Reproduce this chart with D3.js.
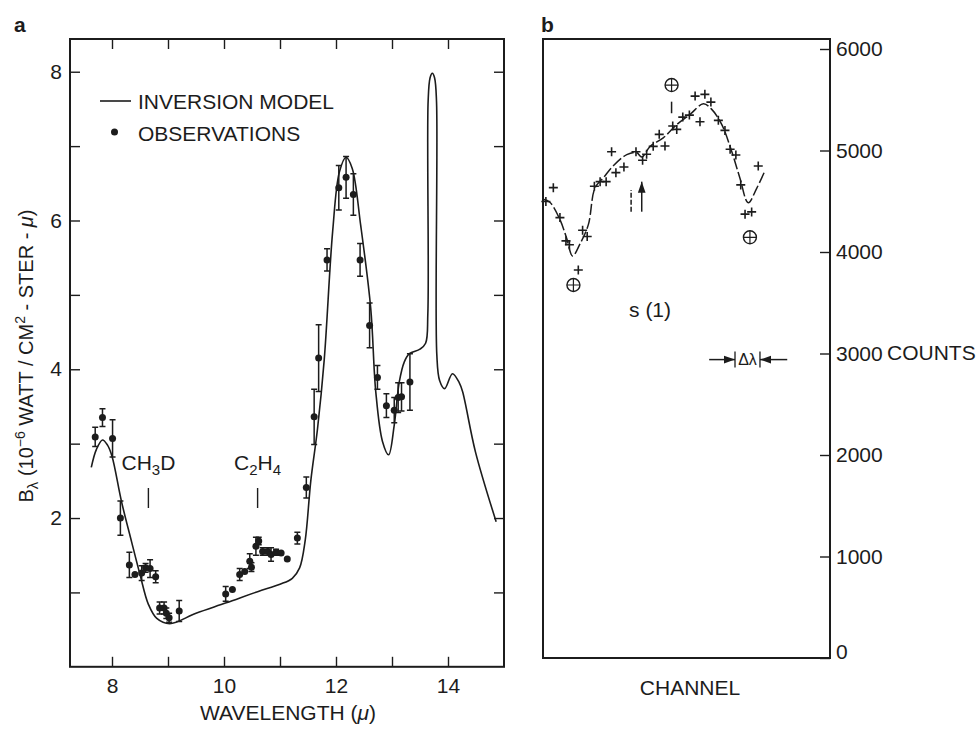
<!DOCTYPE html>
<html lang="en">
<head>
<meta charset="UTF-8">
<title>Spectrum</title>
<script src="https://cdn.jsdelivr.net/npm/d3@7"></script>
<style>
  body { margin: 0; background: #fff; }
  svg { font-family: "Liberation Sans", Arial, Helvetica, sans-serif; }
</style>
</head>
<body>
<script>
// panel a: inversion model curve [wavelength, B]
var modelCurve = [
  [7.63,2.68],[7.72,2.92],[7.83,3.05],[7.92,2.98],[8.0,2.83],[8.17,2.22],[8.35,1.68],[8.5,1.24],
  [8.65,0.84],[8.8,0.65],[9.03,0.58],[9.5,0.72],[10.04,0.86],[10.6,1.01],[11.0,1.11],[11.22,1.19],
  [11.35,1.33],[11.45,1.7],[11.55,2.5],[11.67,3.2],[11.79,4.13],[11.94,5.85],[12.06,6.65],[12.18,6.85],
  [12.29,6.7],[12.44,5.94],[12.62,4.82],[12.71,3.7],[12.83,3.03],[12.94,2.85],[13.04,3.25],[13.13,3.83],
  [13.22,4.1],[13.31,4.21],[13.5,4.27],[13.6,4.35],[13.64,4.75],[13.645,7.6],[13.68,7.92],[13.72,7.98],
  [13.76,7.92],[13.795,7.6],[13.8,4.2],[13.85,3.85],[13.94,3.74],[14.08,3.94],[14.2,3.82],[14.26,3.7],
  [14.49,2.89],[14.86,1.95]
]
// panel a: observations [wavelength, B, error]
var observations = [
  [7.70,3.09,0.13],[7.83,3.35,0.12],[8.01,3.07,0.25],[8.15,2.0,0.23],[8.31,1.37,0.17],[8.41,1.24,0],
  [8.53,1.26,0.1],[8.6,1.33,0.06],[8.68,1.32,0.12],[8.78,1.21,0.08],[8.85,0.79,0.08],[8.93,0.79,0.08],
  [8.97,0.72,0.07],[9.02,0.66,0.06],[9.2,0.75,0.14],[10.03,0.98,0.1],[10.15,1.04,0],[10.28,1.24,0.08],
  [10.37,1.28,0],[10.46,1.42,0.1],[10.49,1.34,0.06],[10.57,1.62,0.12],[10.62,1.69,0.05],[10.69,1.55,0.05],
  [10.78,1.55,0.05],[10.84,1.51,0.09],[10.93,1.54,0.04],[11.02,1.53,0],[11.13,1.45,0],[11.31,1.73,0.08],
  [11.47,2.41,0.14],[11.61,3.36,0.37],[11.69,4.15,0.45],[11.84,5.47,0.15],[12.05,6.44,0.3],[12.18,6.58,0.28],
  [12.31,6.35,0.28],[12.43,5.47,0.22],[12.6,4.59,0.3],[12.74,3.89,0.16],[12.9,3.51,0.16],[13.04,3.45,0.17],
  [13.11,3.62,0.2],[13.17,3.63,0.19],[13.32,3.83,0.38]
]
var xTicksA = [8, 9, 10, 11, 12, 13, 14]
var yTicksA = [1, 2, 3, 4, 5, 6, 7, 8]
var bandMarks = [{ label: 'CH3D', x: 8.65 }, { label: 'C2H4', x: 10.6 }]

// panel b: fitted curve and counts [channel, counts]
var fitCurve = [
  [0,4520],[2.4,4490],[5.9,4320],[8.3,4130],[10.3,3960],[12.9,4080],[15.8,4270],[18.1,4630],[21,4730],
  [24.5,4850],[29.2,4960],[32.6,4980],[34.4,4935],[37.3,5040],[41.9,5125],[46.6,5255],[51.2,5355],
  [55.9,5460],[58.8,5405],[62.3,5255],[65.7,4995],[68.6,4730],[71.5,4485],[74.5,4630],[77.4,4805]
]
var counts = [
  [3.6,4634],[1.0,4497],[5.9,4339],[8.0,4110],[9.2,4071],[12.3,3822],[13.8,4215],[15.4,4153],[17.9,4648],
  [19.9,4693],[22.0,4693],[23.9,4988],[25.4,4782],[28.2,4838],[32.4,4988],[34.7,4904],[36.1,4963],
  [38.4,5041],[40.5,5159],[42.5,5044],[45.2,5241],[46.6,5208],[48.7,5329],[51.0,5349],[53.0,5536],
  [54.7,5283],[56.4,5553],[58.5,5477],[61.1,5297],[63.4,5198],[65.2,5012],[67.2,4956],[68.9,4661],
  [70.4,4373],[72.7,4395],[75.0,4848]
]
var earthMarks = [[10.6,3675],[44.8,5645],[72.1,4145]]
var yTicksB = [0, 1000, 2000, 3000, 4000, 5000, 6000]

var ink = '#1c1c1c'
var fs = 21
var svg = d3.select('body').append('svg').attr('width', 976).attr('height', 730)

// ---------- panel a ----------
var xA = d3.scaleLinear().domain([7.25, 15.0]).range([70, 504])
var yA = d3.scaleLinear().domain([0, 8.44]).range([666.8, 39])

var pa = svg.append('g')
pa.append('g').attr('transform', 'translate(0,666.8)')
    .call(d3.axisBottom(xA).tickValues(xTicksA).tickSize(-10).tickPadding(11)
        .tickFormat(d => d % 2 === 0 ? d : ''))
pa.append('g').attr('transform', 'translate(0,39)')
    .call(d3.axisTop(xA).tickValues(xTicksA).tickSize(-10).tickFormat(''))
pa.append('g').attr('transform', 'translate(70,0)')
    .call(d3.axisLeft(yA).tickValues(yTicksA).tickSize(-10).tickPadding(8)
        .tickFormat(d => d % 2 === 0 ? d : ''))
pa.append('g').attr('transform', 'translate(504,0)')
    .call(d3.axisRight(yA).tickValues(yTicksA).tickSize(-10).tickFormat(''))
pa.append('rect').attr('x', 70).attr('y', 39).attr('width', 434).attr('height', 627.8)
    .attr('fill', 'none').attr('stroke', ink).attr('stroke-width', 2)

pa.append('path')
    .datum(modelCurve)
    .attr('fill', 'none').attr('stroke', ink).attr('stroke-width', 1.6)
    .attr('d', d3.line().x(d => xA(d[0])).y(d => yA(d[1])).curve(d3.curveCatmullRom.alpha(0.5)))

var obs = pa.append('g').selectAll('g').data(observations).enter().append('g')
obs.filter(d => d[2] > 0).append('path')
    .attr('fill', 'none').attr('stroke', ink).attr('stroke-width', 1.5)
    .attr('d', d => {
        var cx = xA(d[0]), t = yA(d[1] + d[2]), b = yA(d[1] - d[2])
        return 'M' + cx + ',' + t + 'V' + b + 'M' + (cx - 3) + ',' + t + 'h6M' + (cx - 3) + ',' + b + 'h6'
    })
obs.append('circle')
    .attr('cx', d => xA(d[0])).attr('cy', d => yA(d[1])).attr('r', 3.5).attr('fill', ink)

// legend
pa.append('line').attr('x1', 100).attr('x2', 131).attr('y1', 101).attr('y2', 101)
    .attr('stroke', ink).attr('stroke-width', 1.6)
pa.append('text').attr('x', 138).attr('y', 109).attr('font-size', fs).attr('fill', ink).text('INVERSION MODEL')
pa.append('circle').attr('cx', 114.5).attr('cy', 132).attr('r', 3.5).attr('fill', ink)
pa.append('text').attr('x', 138).attr('y', 141).attr('font-size', fs).attr('fill', ink).text('OBSERVATIONS')

// band labels
bandMarks.forEach(function (m) {
    pa.append('line').attr('x1', xA(m.x)).attr('x2', xA(m.x)).attr('y1', 488).attr('y2', 508)
        .attr('stroke', ink).attr('stroke-width', 1.4)
    var t = pa.append('text').attr('x', xA(m.x)).attr('y', 475).attr('font-size', fs)
        .attr('fill', ink).attr('text-anchor', 'middle')
    m.label.match(/[A-Z]+|\d/g).forEach(function (s) {
        if (/\d/.test(s)) {
            t.append('tspan').attr('font-size', 15).attr('dy', 5).text(s)
        } else {
            t.append('tspan').attr('dy', t.selectAll('tspan').size() ? -5 : 0).text(s)
        }
    })
})

// axis titles
pa.append('text').attr('x', 288).attr('y', 720).attr('font-size', fs).attr('fill', ink)
    .attr('text-anchor', 'middle')
    .call(t => {
        t.append('tspan').text('WAVELENGTH (')
        t.append('tspan').attr('font-style', 'italic').text('μ')
        t.append('tspan').text(')')
    })
pa.append('text').attr('transform', 'translate(33,356) rotate(-90)').attr('font-size', 20)
    .attr('fill', ink).attr('text-anchor', 'middle')
    .call(t => {
        t.append('tspan').text('B')
        t.append('tspan').attr('font-size', 15).attr('dy', 5).text('λ')
        t.append('tspan').attr('dy', -5).text(' (10')
        t.append('tspan').attr('font-size', 14).attr('dy', -8).text('−6')
        t.append('tspan').attr('dy', 8).text(' WATT / CM')
        t.append('tspan').attr('font-size', 14).attr('dy', -8).text('2')
        t.append('tspan').attr('dy', 8).text(' - STER - ')
        t.append('tspan').attr('font-style', 'italic').text('μ')
        t.append('tspan').text(')')
    })
svg.append('text').attr('x', 14).attr('y', 32).attr('font-size', fs).attr('font-weight', 'bold')
    .attr('fill', ink).text('a')

// ---------- panel b ----------
var xB = d3.scaleLinear().domain([0, 100]).range([543, 830])
var yB = d3.scaleLinear().domain([0, 6000]).range([658, 49])

var pb = svg.append('g')
var axB = pb.append('g').attr('transform', 'translate(830,0)')
    .call(d3.axisRight(yB).tickValues(yTicksB).tickSize(-10).tickPadding(6).tickFormat(d3.format('d')))
axB.selectAll('text').filter(d => d === 0).attr('dy', '0.02em')
pb.append('rect').attr('x', 543).attr('y', 39).attr('width', 287).attr('height', 619)
    .attr('fill', 'none').attr('stroke', ink).attr('stroke-width', 2)
pb.append('text').attr('x', 887).attr('y', yB(3000)).attr('dy', '0.32em').attr('font-size', fs)
    .attr('fill', ink).text('COUNTS')

pb.append('path')
    .datum(fitCurve)
    .attr('fill', 'none').attr('stroke', ink).attr('stroke-width', 1.5)
    .attr('stroke-dasharray', '11,3')
    .attr('d', d3.line().x(d => xB(d[0])).y(d => yB(d[1])).curve(d3.curveCatmullRom.alpha(0.5)))

pb.append('g').selectAll('path').data(counts).enter().append('path')
    .attr('fill', 'none').attr('stroke', ink).attr('stroke-width', 1.6)
    .attr('d', d => {
        var cx = xB(d[0]), cy = yB(d[1])
        return 'M' + (cx - 4.5) + ',' + cy + 'h9M' + cx + ',' + (cy - 4.5) + 'v9'
    })

// circled plus (Earth) symbols
var em = pb.append('g').selectAll('g').data(earthMarks).enter().append('g')
    .attr('transform', d => 'translate(' + xB(d[0]) + ',' + yB(d[1]) + ')')
em.append('circle').attr('r', 6.5).attr('fill', 'none').attr('stroke', ink).attr('stroke-width', 1.4)
em.append('path').attr('d', 'M-6.5,0h13M0,-6.5v13').attr('stroke', ink).attr('stroke-width', 1.2)

pb.append('line').attr('x1', xB(44.8)).attr('x2', xB(44.8)).attr('y1', yB(5481)).attr('y2', yB(5367))
    .attr('stroke', ink).attr('stroke-width', 1.5)

svg.append('defs').call(d => {
    d.append('marker').attr('id', 'head').attr('viewBox', '0 0 10 10').attr('refX', 10).attr('refY', 5)
        .attr('markerWidth', 11).attr('markerHeight', 11).attr('markerUnits', 'userSpaceOnUse')
        .attr('orient', 'auto')
        .append('path').attr('d', 'M0,1.5L10,5L0,8.5Z').attr('fill', ink)
})
pb.append('line').attr('x1', xB(34.4)).attr('x2', xB(34.4)).attr('y1', yB(4397)).attr('y2', yB(4693))
    .attr('stroke', ink).attr('stroke-width', 1.5).attr('marker-end', 'url(#head)')
pb.append('line').attr('x1', xB(30.7)).attr('x2', xB(30.7)).attr('y1', yB(4397)).attr('y2', yB(4610))
    .attr('stroke', ink).attr('stroke-width', 1.5).attr('stroke-dasharray', '5,2')

pb.append('text').attr('x', xB(37.3)).attr('y', yB(3362)).attr('font-size', fs)
    .attr('text-anchor', 'middle').attr('fill', ink).text('s (1)')

// Δλ marker
var dl = yB(2940)
pb.append('line').attr('x1', xB(57.9)).attr('x2', xB(66.9)).attr('y1', dl).attr('y2', dl)
    .attr('stroke', ink).attr('stroke-width', 1.5).attr('marker-end', 'url(#head)')
pb.append('line').attr('x1', xB(85.1)).attr('x2', xB(75.6)).attr('y1', dl).attr('y2', dl)
    .attr('stroke', ink).attr('stroke-width', 1.5).attr('marker-end', 'url(#head)')
pb.append('path').attr('d', 'M' + xB(66.9) + ',' + (dl - 8) + 'v16M' + xB(75.6) + ',' + (dl - 8) + 'v16')
    .attr('stroke', ink).attr('stroke-width', 1.3)
pb.append('text').attr('x', (xB(66.9) + xB(75.6)) / 2).attr('y', dl).attr('dy', '0.35em')
    .attr('font-size', 16).attr('text-anchor', 'middle').attr('fill', ink).text('Δλ')

pb.append('text').attr('x', 690).attr('y', 695).attr('font-size', fs).attr('text-anchor', 'middle')
    .attr('fill', ink).text('CHANNEL')
svg.append('text').attr('x', 541).attr('y', 32).attr('font-size', fs).attr('font-weight', 'bold')
    .attr('fill', ink).text('b')

svg.selectAll('.domain').remove()
svg.selectAll('.tick line').attr('stroke', ink).attr('stroke-width', 1.4)
svg.selectAll('.tick text').attr('font-size', fs).attr('fill', ink)
    .attr('font-family', '"Liberation Sans", Arial, Helvetica, sans-serif')
</script>
</body>
</html>
